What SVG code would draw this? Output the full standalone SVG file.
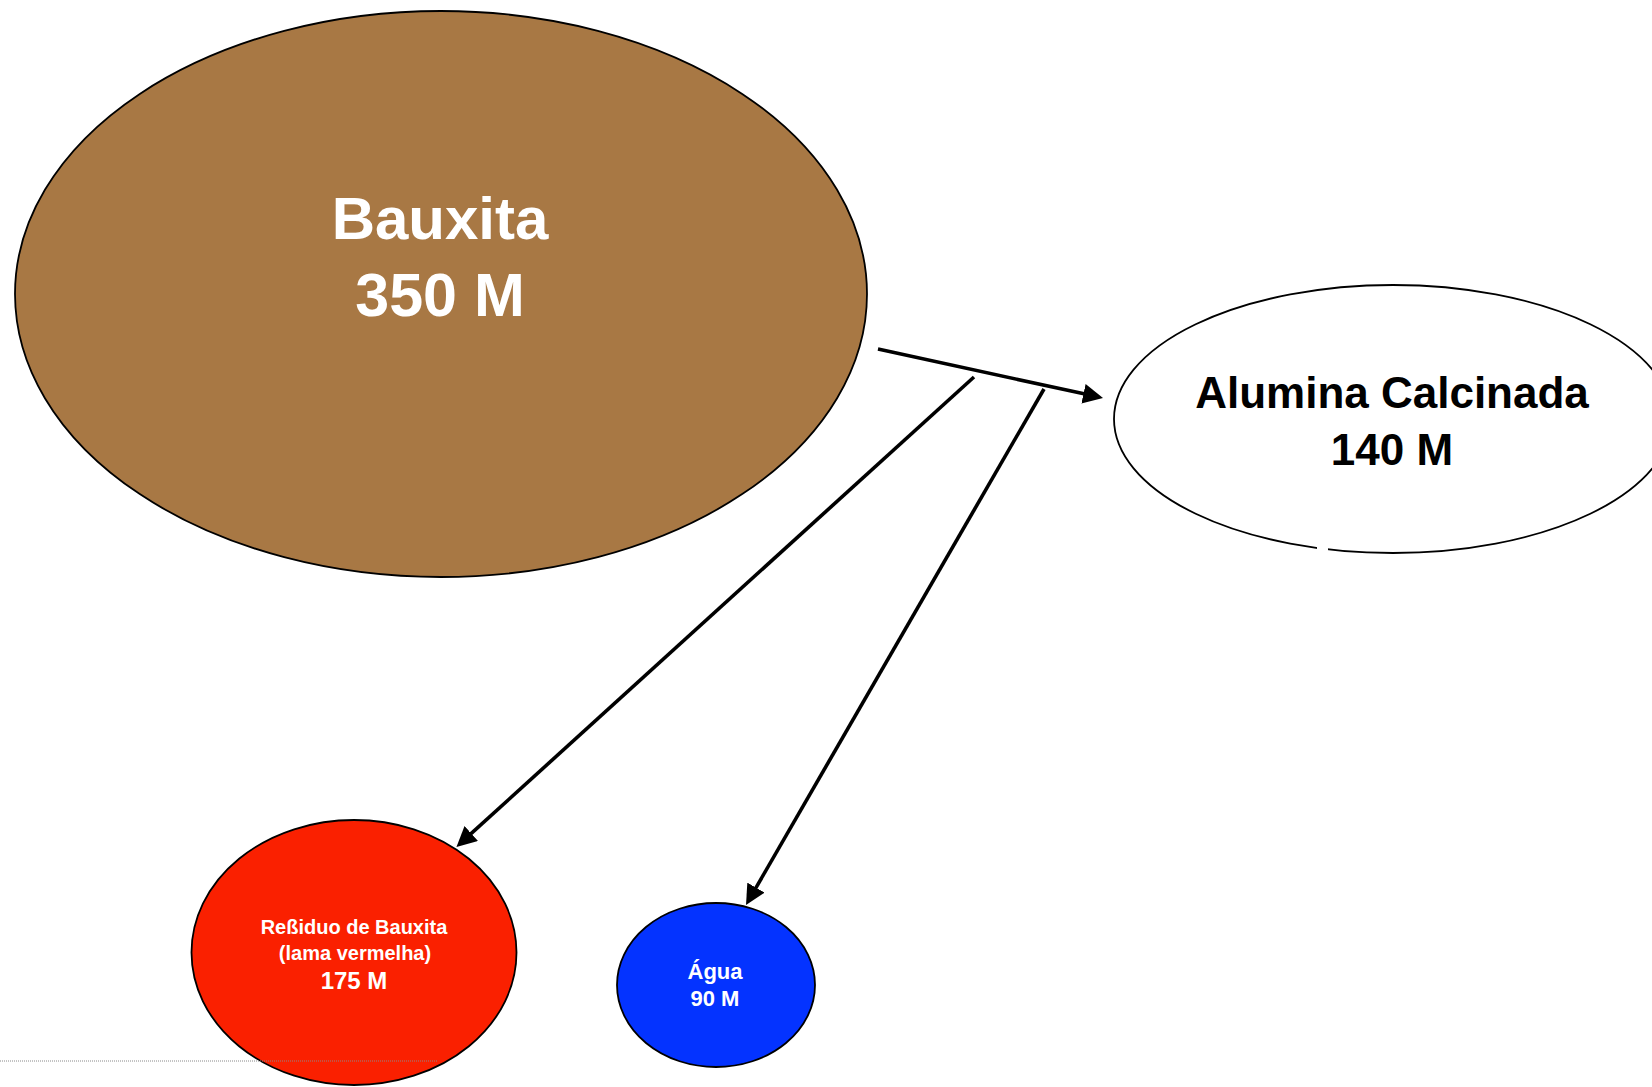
<svg xmlns="http://www.w3.org/2000/svg" width="1652" height="1087" viewBox="0 0 1652 1087">
  <defs>
    <style>
      .node { stroke: #000; stroke-width: 1.8; }
      .lbl { font-family: "Liberation Sans", Arial, Helvetica, sans-serif; font-weight: bold; text-anchor: middle; }
      .white { fill: #fff; }
      .black { fill: #000; }
      .conn { fill: none; stroke: #000; stroke-width: 3.6; stroke-linecap: butt; }
    </style>
    <marker id="arrow" markerUnits="userSpaceOnUse" markerWidth="22" markerHeight="20" refX="4" refY="10" orient="auto" viewBox="0 0 22 20">
      <path d="M0,0 L20,10 L0,20 z" fill="#000"/>
    </marker>
  </defs>

  <rect width="1652" height="1087" fill="#fff"/>

  <!-- Bauxite source -->
  <g id="bauxita">
    <ellipse class="node" cx="441" cy="294" rx="426" ry="283" fill="#A87844"/>
    <text class="lbl white" x="440" y="239" font-size="60">Bauxita</text>
    <text class="lbl white" x="440" y="316" font-size="61">350 M</text>
  </g>

  <!-- Calcined alumina product -->
  <g id="alumina">
    <ellipse class="node" cx="1393" cy="419" rx="279" ry="134" fill="#fff"/>
    <rect x="1317" y="543" width="11" height="10" fill="#fff"/>
    <text class="lbl black" x="1392" y="408" font-size="44">Alumina Calcinada</text>
    <text class="lbl black" x="1392" y="465" font-size="44">140 M</text>
  </g>

  <!-- Bauxite residue -->
  <g id="residuo">
    <ellipse class="node" cx="354" cy="952.5" rx="162.5" ry="132.5" fill="#FA2000"/>
    <text class="lbl white" x="354" y="934" font-size="20">Reßiduo de Bauxita</text>
    <text class="lbl white" x="355" y="960" font-size="20">(lama vermelha)</text>
    <text class="lbl white" x="354" y="989" font-size="24">175 M</text>
  </g>

  <!-- Water -->
  <g id="agua">
    <ellipse class="node" cx="716" cy="985" rx="99" ry="82" fill="#0433FF"/>
    <text class="lbl white" x="715" y="979" font-size="22">Água</text>
    <text class="lbl white" x="715" y="1006" font-size="22">90 M</text>
  </g>

  <!-- Flows -->
  <g id="connectors">
    <path class="conn" d="M878,349 L1087.4,394.6" marker-end="url(#arrow)"/>
    <path class="conn" d="M974,377 L468.3,836.2" marker-end="url(#arrow)"/>
    <path class="conn" d="M1044,389 L754,891.1" marker-end="url(#arrow)"/>
  </g>

  <!-- page break guide -->
  <line x1="0" y1="1061" x2="437" y2="1061" stroke="#888" stroke-width="1" stroke-dasharray="1 1"/>
</svg>
